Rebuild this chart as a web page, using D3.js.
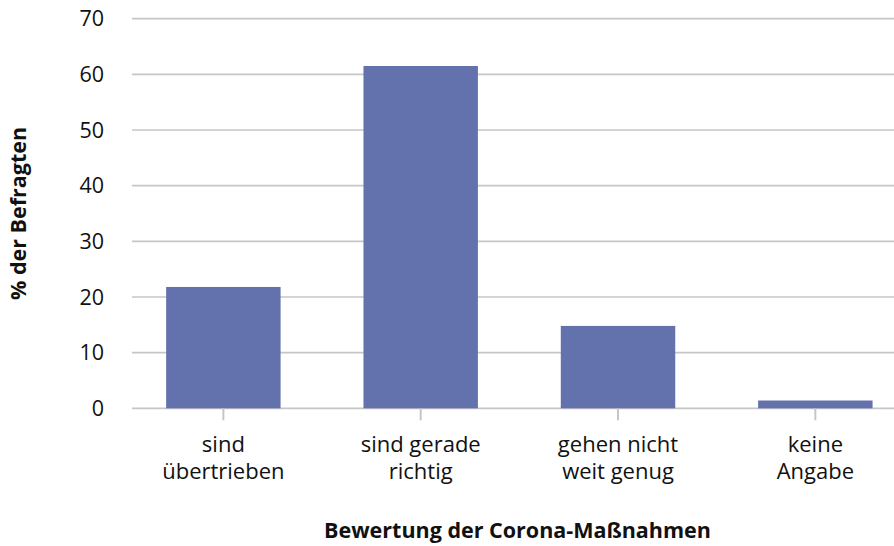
<!DOCTYPE html>
<html>
<head>
<meta charset="utf-8">
<script src="https://cdn.jsdelivr.net/npm/d3@7"></script>
<style>
  html, body { margin: 0; padding: 0; background: #fff; }
  svg { display: block; font-family: "Open Sans", sans-serif; }
</style>
</head>
<body>
<div id="graph"></div>
<script>
const categories = [["sind", "übertrieben"], ["sind gerade", "richtig"], ["gehen nicht", "weit genug"], ["keine", "Angabe"]];
const values = [21.8, 61.5, 14.8, 1.4];
const yTicks = [0, 10, 20, 30, 40, 50, 60, 70];

const width = 894;
const height = 546;
const marginLeft = 132;
const marginTop = 18.7;
const marginBottom = 137.7;

const xScale = d3.scaleBand()
  .domain(d3.range(categories.length))
  .range([124.7, 914])
  .paddingInner(0.42)
  .paddingOuter(0.21);

const yScale = d3.scaleLinear()
  .domain([0, 70])
  .range([height - marginBottom, marginTop]);

const svg = d3.select("#graph").append("svg")
  .attr("width", width)
  .attr("height", height);

// gridlines
svg.append("g")
  .selectAll("line")
  .data(yTicks)
  .join("line")
  .attr("x1", marginLeft)
  .attr("x2", width)
  .attr("y1", d => yScale(d))
  .attr("y2", d => yScale(d))
  .attr("stroke", "#c6c6c6")
  .attr("stroke-width", 1.7);

// y tick labels
svg.append("g")
  .selectAll("text")
  .data(yTicks)
  .join("text")
  .attr("x", 104)
  .attr("y", d => yScale(d))
  .attr("dy", "0.36em")
  .attr("text-anchor", "end")
  .attr("font-size", 21.5)
  .attr("fill", "#111")
  .text(d => d);

// bars
svg.append("g")
  .selectAll("rect")
  .data(values)
  .join("rect")
  .attr("x", (d, i) => xScale(i))
  .attr("y", d => yScale(d))
  .attr("width", xScale.bandwidth())
  .attr("height", d => yScale(0) - yScale(d))
  .attr("fill", "#6372ac");

// x ticks
svg.append("g")
  .selectAll("line")
  .data(categories)
  .join("line")
  .attr("x1", (d, i) => xScale(i) + xScale.bandwidth() / 2)
  .attr("x2", (d, i) => xScale(i) + xScale.bandwidth() / 2)
  .attr("y1", yScale(0))
  .attr("y2", yScale(0) + 12)
  .attr("stroke", "#c6c6c6")
  .attr("stroke-width", 2);

// category labels
const catLabels = svg.append("g")
  .selectAll("text")
  .data(categories)
  .join("text")
  .attr("x", (d, i) => xScale(i) + xScale.bandwidth() / 2)
  .attr("y", 451.5)
  .attr("text-anchor", "middle")
  .attr("font-size", 22)
  .attr("fill", "#111");

catLabels.selectAll("tspan")
  .data(d => d)
  .join("tspan")
  .attr("x", function () { return d3.select(this.parentNode).attr("x"); })
  .attr("dy", (d, i) => i === 0 ? 0 : 27)
  .text(d => d);

// axis titles
svg.append("text")
  .attr("x", 517.5)
  .attr("y", 538)
  .attr("text-anchor", "middle")
  .attr("font-size", 21.5)
  .attr("font-weight", "bold")
  .attr("fill", "#111")
  .text("Bewertung der Corona-Maßnahmen");

svg.append("text")
  .attr("transform", `translate(26, ${yScale(35)}) rotate(-90)`)
  .attr("text-anchor", "middle")
  .attr("font-size", 21.5)
  .attr("font-weight", "bold")
  .attr("fill", "#111")
  .text("% der Befragten");
</script>
</body>
</html>
